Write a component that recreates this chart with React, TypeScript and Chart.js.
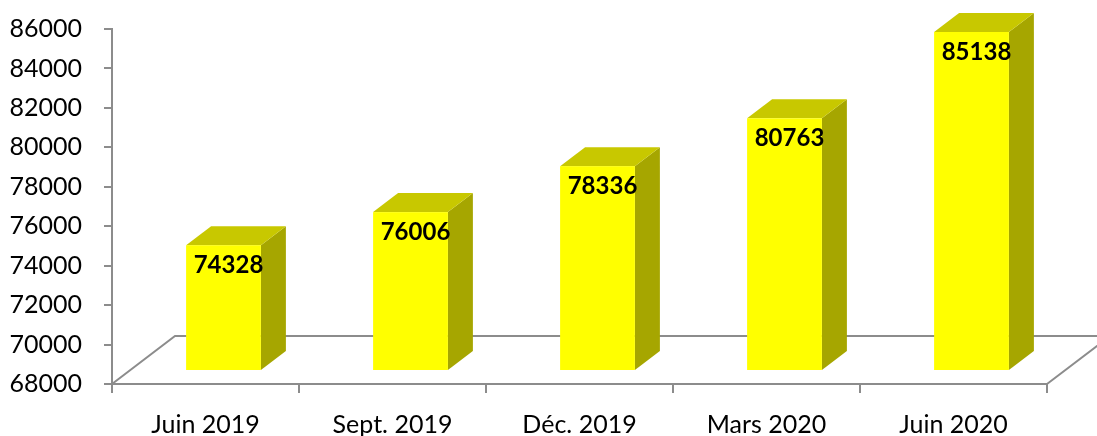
import React, { useEffect, useRef } from "react";
import { Chart, registerables } from "chart.js";

Chart.register(...registerables);

const categories = ["Juin 2019", "Sept. 2019", "Déc. 2019", "Mars 2020", "Juin 2020"];
const values = [74328, 76006, 78336, 80763, 85138];
const yMin = 68000;
const yMax = 86000;
const yStep = 2000;

const FLOOR_DX = 63;
const FLOOR_DY = -48;
const FRONT_DX = 18;
const FRONT_DY = -14;
const DEPTH_DX = 25;
const DEPTH_DY = -19;
const FRONT_COLOR = "#FFFF00";
const TOP_COLOR = "#C8C800";
const SIDE_COLOR = "#A6A600";
const LINE_COLOR = "#8C8C8C";
const FONT = "Lato";

const bar3d = {
  id: "bar3d",
  beforeDatasetsDraw(chart: any) {
    const { ctx, chartArea: a } = chart;
    ctx.save();
    ctx.strokeStyle = LINE_COLOR;
    ctx.lineWidth = 2;
    ctx.beginPath();
    ctx.moveTo(a.left, a.bottom);
    ctx.lineTo(a.left + FLOOR_DX, a.bottom + FLOOR_DY);
    ctx.lineTo(a.right + FLOOR_DX, a.bottom + FLOOR_DY);
    ctx.lineTo(a.right, a.bottom);
    ctx.stroke();
    ctx.restore();
  },
  afterDatasetsDraw(chart: any) {
    const { ctx } = chart;
    const meta = chart.getDatasetMeta(0);
    const basePx = chart.scales.y.getPixelForValue(yMin);
    ctx.save();
    meta.data.forEach((el: any, i: number) => {
      const { x, y, width } = el.getProps(["x", "y", "width"], true);
      const l = x - width / 2 + FRONT_DX;
      const r = x + width / 2 + FRONT_DX;
      const t = y + FRONT_DY;
      const b = basePx + FRONT_DY;
      // side face
      ctx.fillStyle = SIDE_COLOR;
      ctx.beginPath();
      ctx.moveTo(r, t);
      ctx.lineTo(r + DEPTH_DX, t + DEPTH_DY);
      ctx.lineTo(r + DEPTH_DX, b + DEPTH_DY);
      ctx.lineTo(r, b);
      ctx.closePath();
      ctx.fill();
      // top face
      ctx.fillStyle = TOP_COLOR;
      ctx.beginPath();
      ctx.moveTo(l, t);
      ctx.lineTo(l + DEPTH_DX, t + DEPTH_DY);
      ctx.lineTo(r + DEPTH_DX, t + DEPTH_DY);
      ctx.lineTo(r, t);
      ctx.closePath();
      ctx.fill();
      // front face
      ctx.fillStyle = FRONT_COLOR;
      ctx.fillRect(l, t, r - l, b - t);
      // label
      ctx.fillStyle = "#000";
      ctx.font = `bold 24px ${FONT}`;
      ctx.textAlign = "center";
      ctx.textBaseline = "middle";
      ctx.fillText(String(values[i]), (l + r) / 2 + 5, t + 20);
    });
    ctx.restore();
  },
};

export default function App() {
  const ref = useRef<HTMLCanvasElement>(null);
  useEffect(() => {
    if (!ref.current) return;
    const chart = new Chart(ref.current, {
      type: "bar",
      data: {
        labels: categories,
        datasets: [
          {
            data: values,
            base: yMin,
            backgroundColor: "rgba(0,0,0,0)",
            borderWidth: 0,
            categoryPercentage: 1,
            barPercentage: 0.4,
          },
        ],
      },
      options: {
        animation: false,
        responsive: false,
        events: [],
        layout: { padding: { top: 29, right: 50, left: 0, bottom: 0 } },
        plugins: { legend: { display: false }, tooltip: { enabled: false } },
        scales: {
          x: {
            grid: {
              drawOnChartArea: false,
              drawTicks: true,
              tickLength: 9,
              color: LINE_COLOR,
              lineWidth: 2,
              offset: true,
            },
            border: { display: true, color: LINE_COLOR, width: 2 },
            ticks: { color: "#000", font: { family: FONT, size: 25 }, padding: 17, maxRotation: 0 },
            afterFit: (s: any) => {
              s.height = 52;
              s.paddingLeft = 0;
              s.paddingRight = 0;
            },
          },
          y: {
            min: yMin,
            max: yMax,
            grid: {
              drawOnChartArea: false,
              drawTicks: true,
              tickLength: 8,
              color: LINE_COLOR,
              lineWidth: 2,
            },
            border: { display: true, color: LINE_COLOR, width: 2 },
            ticks: {
              stepSize: yStep,
              color: "#000",
              font: { family: FONT, size: 25 },
              padding: 22,
              callback: (v: any) => String(v),
            },
            afterFit: (s: any) => {
              s.width = 112;
              s.paddingTop = 0;
              s.paddingBottom = 0;
            },
          },
        },
      },
      plugins: [bar3d],
    });
    return () => chart.destroy();
  }, []);
  return (
    <div style={{ position: "fixed", left: 0, top: 0, width: 1097, height: 436, background: "#fff" }}>
      <canvas ref={ref} width={1097} height={436} />
    </div>
  );
}
